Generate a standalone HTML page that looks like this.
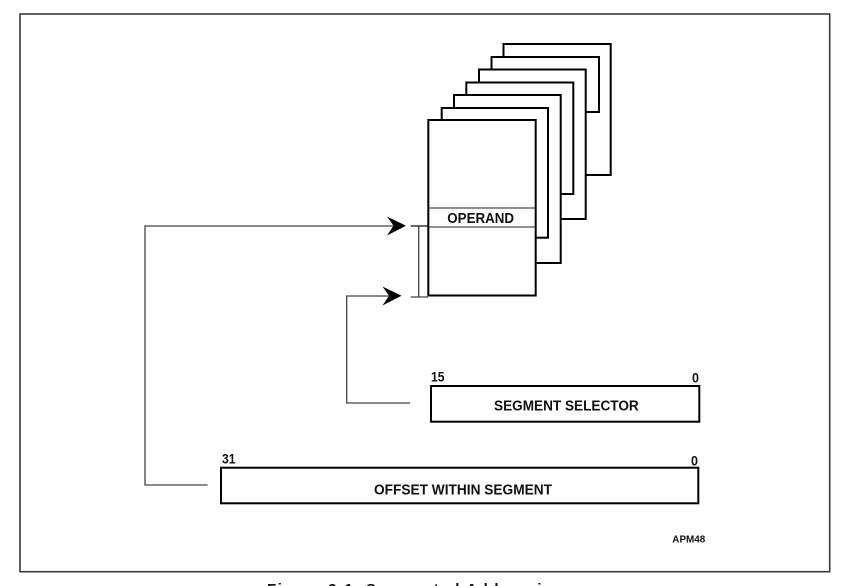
<!DOCTYPE html>
<html>
<head>
<meta charset="utf-8">
<style>
html,body{margin:0;padding:0;background:#fff;}
svg{display:block;}
text{font-family:"Liberation Sans",sans-serif;font-weight:bold;fill:#111;}
</style>
</head>
<body>
<svg width="859" height="586" viewBox="0 0 859 586" xmlns="http://www.w3.org/2000/svg">
<rect x="20" y="14" width="809.7" height="557.7" fill="#fff" stroke="#3a3a3a" stroke-width="1.6"/>
<g fill="#fff" stroke="#000" stroke-width="2">
<rect x="503.5" y="44" width="107.2" height="131"/>
<rect x="491.5" y="57" width="107.5" height="55"/>
<rect x="479" y="69.5" width="106.7" height="149.5"/>
<rect x="466.3" y="82.5" width="107" height="111.5"/>
<rect x="454" y="95" width="106.7" height="168"/>
<rect x="441.7" y="108" width="106.3" height="129.7"/>
<rect x="428.3" y="120" width="107.4" height="175.5"/>
</g>
<g stroke="#222" stroke-width="1.1" fill="none">
<line x1="428.3" y1="208" x2="535.7" y2="208"/>
<line x1="428.3" y1="227" x2="535.7" y2="227"/>
</g>
<g stroke="#444" stroke-width="1.3" fill="none">
<polyline points="207.7,485 145,485 145,226 395,226"/>
<polyline points="410,403 346.7,403 346.7,296 392,296"/>
<line x1="418.7" y1="226" x2="418.7" y2="297"/>
<line x1="410.7" y1="297" x2="428" y2="297"/>
</g>
<line x1="410.7" y1="226" x2="428" y2="226" stroke="#111" stroke-width="1.2"/>
<polygon points="406,225.7 387,216.5 393.5,225.7 387,235.5" fill="#000"/>
<polygon points="401.5,295.7 382.5,286.5 389,295.7 382.5,305.5" fill="#000"/>
<g fill="#fff" stroke="#000" stroke-width="2">
<rect x="431" y="386" width="268.3" height="35.7"/>
<rect x="221" y="467.7" width="477.3" height="35.6"/>
</g>
<text x="447.3" y="222.8" font-size="14.5" textLength="66.7" lengthAdjust="spacingAndGlyphs">OPERAND</text>
<text x="494" y="410.3" font-size="14.5" textLength="144.7" lengthAdjust="spacingAndGlyphs">SEGMENT SELECTOR</text>
<text x="374" y="494.3" font-size="14.5" textLength="178" lengthAdjust="spacingAndGlyphs">OFFSET WITHIN SEGMENT</text>
<text x="222" y="463.3" font-size="14" textLength="13.5" lengthAdjust="spacingAndGlyphs">31</text>
<text x="431" y="381.3" font-size="14" textLength="13.5" lengthAdjust="spacingAndGlyphs">15</text>
<text x="692" y="382.3" font-size="14" textLength="7" lengthAdjust="spacingAndGlyphs">0</text>
<text x="691" y="465.3" font-size="14" textLength="7" lengthAdjust="spacingAndGlyphs">0</text>
<text x="672.3" y="542.7" font-size="10.5" textLength="33" lengthAdjust="spacingAndGlyphs">APM48</text>
<text x="267" y="594" font-size="15" textLength="296" lengthAdjust="spacing">Figure 3-1. Segmented Addressing</text>
</svg>
</body>
</html>
